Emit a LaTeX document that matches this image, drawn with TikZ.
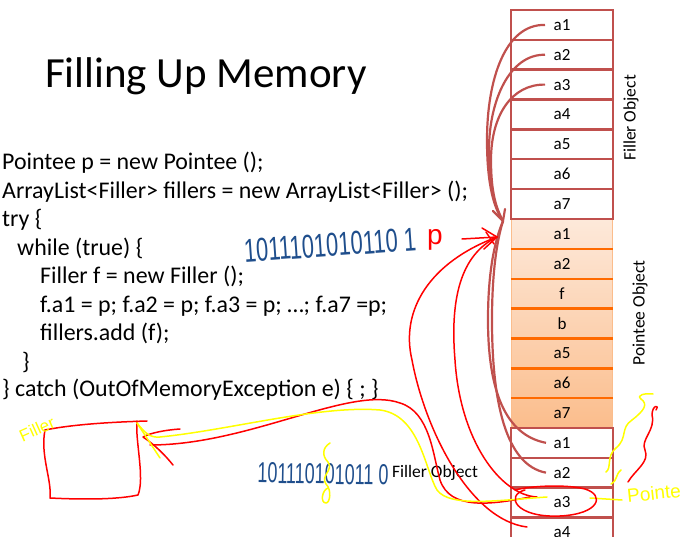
\documentclass[tikz,border=0pt]{standalone}
\usepackage{fontspec}
\setmainfont{Carlito}
\newfontfamily\handfont{Liberation Sans}
\usetikzlibrary{arrows.meta}
\definecolor{fillerred}{HTML}{C0504D}
\definecolor{sepor}{HTML}{FF6A00}
\definecolor{ptop}{HTML}{FDE9DA}
\definecolor{pbot}{HTML}{FBBD8C}
\definecolor{inkblue}{HTML}{1F4E8C}
\definecolor{inkred}{HTML}{FF0000}
\definecolor{inkyellow}{HTML}{FFFF00}
\begin{document}
\begin{tikzpicture}[x=1pt,y=-1pt,
  cell/.style={rectangle, minimum width=102pt, minimum height=29.85pt, inner sep=0pt,
    font=\fontsize{17}{20}\selectfont},
  fcell/.style={cell, draw=fillerred, line width=2.5pt},
  pcell/.style={cell},
  code/.style={anchor=base west, inner sep=0pt, font=\fontsize{23.9}{28}\selectfont},
  sidelabel/.style={rotate=90, inner sep=0pt, font=\fontsize{17.5}{20}\selectfont},
  link/.style={draw=fillerred, line width=2.2pt},
  redink/.style={draw=inkred, line width=1.5pt, line cap=round, line join=round},
  yellowink/.style={draw=inkyellow, line width=1.5pt, line cap=round, line join=round},
  blueink/.style={text=inkblue, inner sep=0pt, font=\handfont\fontsize{22}{26}\selectfont},
]
\useasboundingbox (0,0) rectangle (686,537);

% title
\node[anchor=base west, inner sep=0pt, font=\fontsize{43}{50}\selectfont] (title) at (45,88) {Filling Up Memory};

% source code
\node[code] (c1) at (2,170) {Pointee p = new Pointee ();};
\node[code] (c2) at (2,198.5) {ArrayList<Filler> fillers = new ArrayList<Filler> ();};
\node[code] (c3) at (2,227) {try \{};
\node[code] (c4) at (17,255.5) {while (true) \{};
\node[code] (c5) at (40,284) {Filler f = new Filler ();};
\node[code] (c6) at (40,312.5) {f.a1 = p; f.a2 = p; f.a3 = p; …; f.a7 =p;};
\node[code] (c7) at (40,341) {fillers.add (f);};
\node[code] (c8) at (22,369.5) {\}};
\node[code] (c9) at (2,397) {\} catch (OutOfMemoryException e) \{ ; \}};

% pointee object: shaded block with orange separators
\shade[top color=ptop, bottom color=pbot, draw=pbot, line width=1pt] (511.5,218.95) rectangle (612.5,427.9);
\foreach \lab [count=\i] in {a1,a2,f,b,a5,a6,a7} {
  \node[pcell] (p\i) at (562,{10+29.85*(\i+6.5)}) {\lab};
}
\foreach \i in {1,...,6} {
  \draw[sepor, line width=2.5pt] (p\i.south west) -- (p\i.south east);
}

% filler objects
\foreach \i in {1,...,7} {
  \node[fcell] (f\i) at (562,{10+29.85*(\i-0.5)}) {a\i};
}
\foreach \i in {1,...,4} {
  \node[fcell] (g\i) at (562,{10+29.85*(\i+13.5)}) {a\i};
}

\node[sidelabel] (fo) at (631,118) {Filler Object};
\node[sidelabel] (po) at (640,313) {Pointee Object};
\node[anchor=base, inner sep=0pt, font=\fontsize{17.5}{20}\selectfont] (fo2) at (435,477) {Filler Object};

% references from filler fields to the pointee
\coordinate (tip) at (503,221);
\draw[link] ([xshift=-17pt]f1.center) .. controls (505,24) and (487,80) .. (487,140)
  .. controls (487,185) and (494,208) .. (tip);
\draw[link] ([xshift=-17pt]f2.center) .. controls (510,54) and (489,100) .. (489,150)
  .. controls (489,190) and (495,208) .. (tip);
\draw[link] ([xshift=-17pt]f3.center) .. controls (512,84) and (491,115) .. (491,160)
  .. controls (491,192) and (496,208) .. (tip);
\draw[link] ([xshift=-16pt]g1.center) .. controls (505,435) and (488,390) .. (488,320)
  .. controls (488,270) and (495,240) .. (tip);
\draw[link] ([xshift=-16pt]g2.center) .. controls (505,465) and (492,400) .. (492,320)
  .. controls (492,272) and (497,240) .. (tip);
\draw[fillerred, line width=2.2pt, line cap=round] (493,211) -- (tip) -- (505,209);

% handwritten annotations
\node[blueink, rotate=4] (bits1) at (330,245) {\scalebox{1}[1.5]{1011101010110 1}};
\node[text=inkred, inner sep=0pt, font=\handfont\fontsize{28}{30}\selectfont] (pp) at (435,240) {p};
\coordinate (rtip) at (497,237);
\draw[redink] (462,239) -- (rtip);
\draw[redink] (482,228) -- (rtip) -- (484,249);
\draw[redink] (486,232) -- (494,244);

\draw[redink] (rtip) .. controls (430,262) and (400,310) .. (412,360)
  .. controls (425,430) and (470,520) .. (527,527);
\draw[redink] (rtip) .. controls (460,255) and (450,300) .. (455,360)
  .. controls (460,440) and (500,495) .. (537,497);

\node[blueink, rotate=-1] (bits2) at (323,474) {\scalebox{1}[1.6]{\fontsize{18}{20}\selectfont 101110101011 0}};
\draw[yellowink] (330,443) .. controls (322,448) and (322,456) .. (328,462)
  .. controls (334,470) and (320,476) .. (326,484) .. controls (332,490) and (330,503) .. (326,503)
  .. controls (320,503) and (322,490) .. (328,488);

% the "Filler" box
\draw[redink] (45,430) .. controls (75,424) and (115,422) .. (147,421);
\draw[redink] (45,430) .. controls (40,455) and (52,480) .. (50,498)
  .. controls (90,500) and (120,499) .. (138,495)
  .. controls (145,478) and (135,440) .. (137,421);
\node[text=inkyellow, rotate=24, inner sep=0pt, font=\handfont\fontsize{17}{20}\selectfont] (fl) at (37,429) {Filler};

\draw[redink] (180,429) .. controls (165,430) and (150,433) .. (143,437)
  .. controls (155,445) and (165,455) .. (173,465);
\draw[redink] (150,445) .. controls (250,445) and (350,385) .. (400,403)
  .. controls (430,412) and (433,455) .. (440,480)
  .. controls (450,510) and (490,505) .. (530,497);
\draw[yellowink] (137,423) -- (160,458);
\draw[yellowink] (137,423) .. controls (145,433) and (150,438) .. (160,437)
  .. controls (230,430) and (320,405) .. (380,410)
  .. controls (420,415) and (425,470) .. (437,490)
  .. controls (450,508) and (500,500) .. (547,497);
\draw[yellowink] (590,498) -- (622,500);

% circle round the a3 field
\draw[redink] (525,490) .. controls (505,495) and (515,518) .. (560,516)
  .. controls (600,514) and (605,495) .. (585,489)
  .. controls (565,484) and (530,486) .. (515,490);

% right-hand squiggles and label
\draw[yellowink] (606,472) .. controls (612,468) and (606,456) .. (616,448)
  .. controls (628,438) and (620,428) .. (632,420)
  .. controls (645,410) and (648,404) .. (641,399)
  .. controls (636,395) and (645,393) .. (653,394);
\draw[yellowink] (621,470) .. controls (615,475) and (618,480) .. (611,484);
\draw[redink] (656,410) .. controls (660,404) and (652,405) .. (652,415)
  .. controls (656,430) and (640,440) .. (645,450)
  .. controls (650,462) and (635,470) .. (628,482);
\node[text=inkyellow, rotate=6, anchor=west, inner sep=0pt, font=\handfont\fontsize{19}{20}\selectfont] (pl) at (627,496) {Pointe};
\end{tikzpicture}
\end{document}
